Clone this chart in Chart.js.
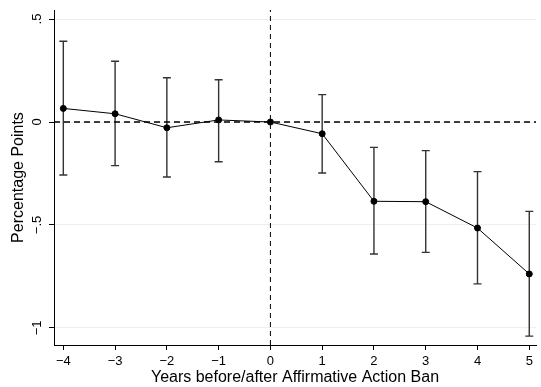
<!DOCTYPE html>
<html>
<head>
<meta charset="utf-8">
<script src="https://cdn.jsdelivr.net/npm/chart.js@4"></script>
<style>
  html, body { margin: 0; padding: 0; background: #fff; }
  #wrap { width: 541px; height: 387px; }
</style>
</head>
<body>
<div id="wrap"><canvas id="eventChart" width="541" height="387"></canvas></div>
<script>
/* ============================
   DATA
============================ */

const years     = [-4, -3, -2, -1, 0, 1, 2, 3, 4, 5];
const estimates = [0.066, 0.040, -0.028, 0.010, 0.000, -0.057, -0.385, -0.387, -0.515, -0.738];
const ciHigh    = [0.392, 0.295, 0.215, 0.205, null, 0.133, -0.123, -0.139, -0.241, -0.434];
const ciLow     = [-0.257, -0.212, -0.267, -0.193, null, -0.248, -0.641, -0.633, -0.786, -1.040];

const yTicks      = [0.5, 0, -0.5, -1];
const yTickLabels = [".5", "0", "\u2212.5", "\u22121"];
const xTicks      = [-4, -3, -2, -1, 0, 1, 2, 3, 4, 5];

const X_MIN = -4.18, X_MAX = 5.13;
const Y_MIN = -1.083, Y_MAX = 0.544;

const FONT = "'Liberation Sans', Arial, Helvetica, sans-serif";

/* ============================
   ERROR BARS (drawn through scales)
============================ */

const errorBarPlugin = {
  id: "errorBars",
  beforeDatasetsDraw(chart){
    const { ctx, scales: { x, y } } = chart;
    ctx.save();
    ctx.strokeStyle = "#333";
    ctx.lineWidth = 1.4;
    const cap = 4;
    years.forEach((yr, i) => {
      if(ciHigh[i] === null || ciLow[i] === null) return;
      const px = x.getPixelForValue(yr);
      const top = y.getPixelForValue(ciHigh[i]);
      const bot = y.getPixelForValue(ciLow[i]);
      ctx.beginPath();
      ctx.moveTo(px, top); ctx.lineTo(px, bot);
      ctx.moveTo(px - cap, top); ctx.lineTo(px + cap, top);
      ctx.moveTo(px - cap, bot); ctx.lineTo(px + cap, bot);
      ctx.stroke();
    });
    ctx.restore();
  }
};

/* ============================
   CHART
============================ */

new Chart(document.getElementById("eventChart"), {
  type: "line",
  data: {
    datasets: [
      {
        label: "zero",
        data: [{ x: X_MIN, y: 0 }, { x: X_MAX, y: 0 }],
        borderColor: "#000",
        borderWidth: 1.3,
        borderDash: [6, 4],
        pointRadius: 0,
        order: 3
      },
      {
        label: "ban",
        data: [{ x: 0, y: Y_MIN }, { x: 0, y: Y_MAX }],
        borderColor: "#000",
        borderWidth: 1,
        borderDash: [5, 4],
        pointRadius: 0,
        order: 2
      },
      {
        label: "Estimate",
        data: years.map((yr, i) => ({ x: yr, y: estimates[i] })),
        borderColor: "#000",
        borderWidth: 1,
        pointBackgroundColor: "#000",
        pointBorderColor: "#000",
        pointRadius: 3,
        tension: 0,
        order: 1
      }
    ]
  },
  options: {
    responsive: false,
    animation: false,
    layout: { padding: { top: 10, right: 0, left: 0, bottom: 0 } },
    plugins: {
      legend: { display: false },
      tooltip: { enabled: false }
    },
    scales: {
      x: {
        type: "linear",
        min: X_MIN,
        max: X_MAX,
        afterBuildTicks: s => { s.ticks = xTicks.map(v => ({ value: v })); },
        afterFit: s => { s.height = 42; },
        ticks: {
          color: "#000",
          font: { family: FONT, size: 13 },
          padding: 4,
          maxRotation: 0,
          callback: v => (v < 0 ? "\u2212" + Math.abs(v) : String(v))
        },
        grid: {
          drawOnChartArea: false,
          tickLength: 5,
          tickColor: "#000"
        },
        border: { color: "#000", width: 1 },
        title: {
          display: true,
          text: "Years before/after Affirmative Action Ban",
          color: "#000",
          font: { family: FONT, size: 16 },
          padding: { top: 0, bottom: 0 }
        }
      },
      y: {
        type: "linear",
        min: Y_MIN,
        max: Y_MAX,
        afterBuildTicks: s => { s.ticks = yTicks.map(v => ({ value: v })); },
        afterFit: s => { s.width = 54; },
        ticks: {
          color: "#000",
          font: { family: FONT, size: 13 },
          padding: 2,
          minRotation: 90,
          maxRotation: 90,
          crossAlign: "center",
          callback: v => yTickLabels[yTicks.indexOf(v)]
        },
        grid: {
          color: "#e9f1f2",
          lineWidth: 1,
          tickLength: 5,
          tickColor: "#000"
        },
        border: { color: "#000", width: 1 },
        title: {
          display: true,
          text: "Percentage Points",
          color: "#000",
          font: { family: FONT, size: 16 },
          padding: { top: 9, bottom: 0 }
        }
      }
    }
  },
  plugins: [errorBarPlugin]
});
</script>
</body>
</html>
